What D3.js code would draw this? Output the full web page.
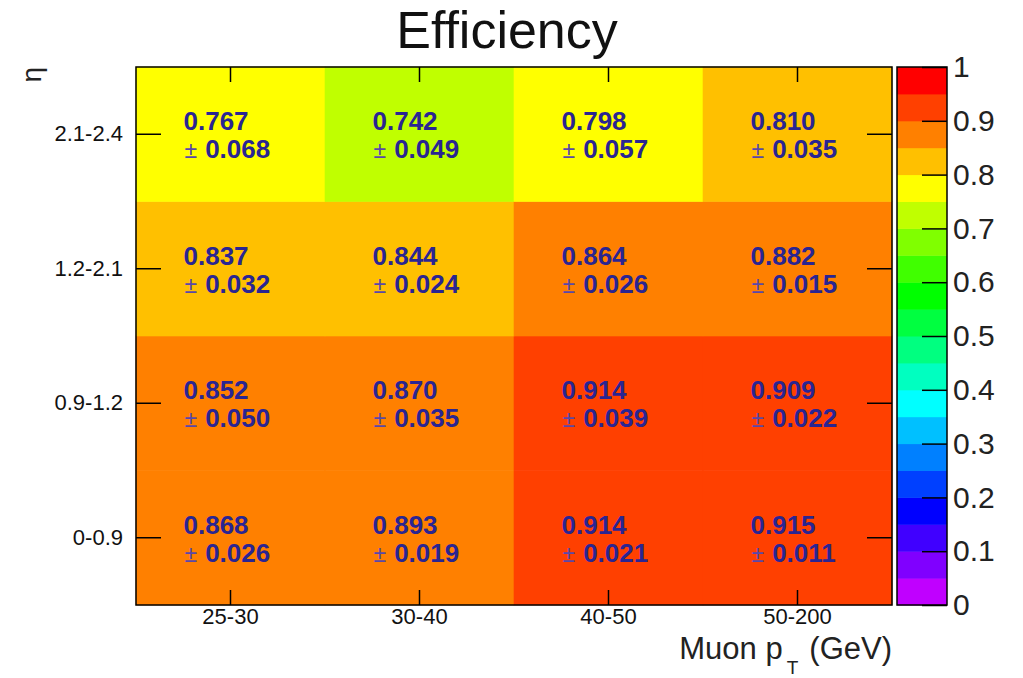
<!DOCTYPE html>
<html>
<head>
<meta charset="utf-8">
<script src="https://cdn.jsdelivr.net/npm/d3@7"></script>
<style>
  body { margin: 0; background: #fff; }
  svg text { font-family: "Liberation Sans", Arial, Helvetica, sans-serif; }
</style>
</head>
<body>
<svg id="chart" width="1023" height="678"></svg>
<script>
// bins
const ptBins = ["25-30", "30-40", "40-50", "50-200"];
const etaBins = ["0-0.9", "0.9-1.2", "1.2-2.1", "2.1-2.4"];

// efficiency per eta row (same order as etaBins), columns follow ptBins
const effRows = [
  [0.868, 0.893, 0.914, 0.915],
  [0.852, 0.870, 0.914, 0.909],
  [0.837, 0.844, 0.864, 0.882],
  [0.767, 0.742, 0.798, 0.810]
];
const errRows = [
  [0.026, 0.019, 0.021, 0.011],
  [0.050, 0.035, 0.039, 0.022],
  [0.032, 0.024, 0.026, 0.015],
  [0.068, 0.049, 0.057, 0.035]
];

// ROOT-style rainbow palette, 20 bins from 0 to 1
const palette = [
  "#c000ff", "#8000ff", "#4000ff", "#0000ff", "#0040ff",
  "#0080ff", "#00c0ff", "#00ffff", "#00ffc0", "#00ff80",
  "#00ff40", "#00ff00", "#40ff00", "#80ff00", "#c0ff00",
  "#ffff00", "#ffc000", "#ff8000", "#ff4000", "#ff0000"
];
const zTicks = [0, 0.1, 0.2, 0.3, 0.4, 0.5, 0.6, 0.7, 0.8, 0.9, 1];

const svg = d3.select("#chart");
const pLeft = 136, pRight = 892, pTop = 67, pBottom = 605;

const x = d3.scaleBand().domain(ptBins).range([pLeft, pRight]);
const y = d3.scaleBand().domain(etaBins).range([pBottom, pTop]);
const color = d3.scaleQuantize().domain([0, 1]).range(palette);

// flatten cells
const cells = [];
etaBins.forEach((eta, i) => {
  ptBins.forEach((pt, j) => {
    cells.push({ eta: eta, pt: pt, eff: effRows[i][j], err: errRows[i][j] });
  });
});

// heat cells (stroke in same colour hides the seams between bands)
svg.append("g")
  .selectAll("rect")
  .data(cells)
  .enter()
  .append("rect")
  .attr("x", d => x(d.pt))
  .attr("y", d => y(d.eta))
  .attr("width", x.bandwidth())
  .attr("height", y.bandwidth())
  .attr("fill", d => color(d.eff))
  .attr("stroke", d => color(d.eff))
  .attr("stroke-width", 0.6);

// cell text
const txt = svg.append("g")
  .selectAll("g")
  .data(cells)
  .enter()
  .append("g")
  .attr("transform", d => "translate(" + (x(d.pt) + x.bandwidth() / 2 - 47) + "," + (y(d.eta) + y.bandwidth() / 2) + ")");

txt.append("text")
  .attr("y", -4)
  .style("font-size", "26px")
  .style("font-weight", "bold")
  .attr("fill", "#2a2592")
  .text(d => d.eff.toFixed(3));

const errText = txt.append("text")
  .attr("x", 1)
  .attr("y", 24)
  .attr("fill", "#2a2592");
errText.append("tspan")
  .style("font-size", "23px")
  .attr("fill", "#5a48a8")
  .text("\u00b1");
errText.append("tspan")
  .style("font-size", "26px")
  .style("font-weight", "bold")
  .attr("dx", 8)
  .text(d => d.err.toFixed(3));

// axes
const axisStyle = g => {
  g.select(".domain").remove();
  g.selectAll("line").attr("stroke", "#000").attr("stroke-width", 1.5);
  g.selectAll("text").style("font-size", "22px").attr("fill", "#111");
};

svg.append("g")
  .attr("transform", "translate(0," + pBottom + ")")
  .call(d3.axisBottom(x).tickSize(-15).tickPadding(3).tickSizeOuter(0))
  .call(axisStyle);

svg.append("g")
  .attr("transform", "translate(0," + pTop + ")")
  .call(d3.axisTop(x).tickSize(-15).tickFormat("").tickSizeOuter(0))
  .call(axisStyle);

svg.append("g")
  .attr("transform", "translate(" + pLeft + ",0)")
  .call(d3.axisLeft(y).tickSize(-25).tickPadding(13).tickSizeOuter(0))
  .call(axisStyle);

svg.append("g")
  .attr("transform", "translate(" + pRight + ",0)")
  .call(d3.axisRight(y).tickSize(-25).tickFormat("").tickSizeOuter(0))
  .call(axisStyle);

// frame
svg.append("rect")
  .attr("x", pLeft).attr("y", pTop)
  .attr("width", pRight - pLeft).attr("height", pBottom - pTop)
  .attr("fill", "none").attr("stroke", "#000").attr("stroke-width", 1.5);

// colour bar
const zLeft = 897, zRight = 947;
const z = d3.scaleLinear().domain([0, 1]).range([pBottom, pTop]);
const zBins = palette.map((c, i) => ({ lo: i / palette.length, hi: (i + 1) / palette.length, c: c }));

svg.append("g")
  .selectAll("rect")
  .data(zBins)
  .enter()
  .append("rect")
  .attr("x", zLeft)
  .attr("y", d => z(d.hi))
  .attr("width", zRight - zLeft)
  .attr("height", d => z(d.lo) - z(d.hi) + 0.5)
  .attr("fill", d => d.c);

svg.append("g")
  .attr("transform", "translate(" + zRight + ",0)")
  .call(d3.axisRight(z).tickValues(zTicks).tickSize(-25).tickPadding(6).tickSizeOuter(0)
    .tickFormat(d => String(+d.toFixed(1))))
  .call(axisStyle)
  .call(g => g.selectAll("text").style("font-size", "30px").attr("fill", "#222"));

svg.append("rect")
  .attr("x", zLeft).attr("y", pTop)
  .attr("width", zRight - zLeft).attr("height", pBottom - pTop)
  .attr("fill", "none").attr("stroke", "#000").attr("stroke-width", 1.5);

// title
svg.append("text")
  .attr("x", 507)
  .attr("y", 48)
  .attr("text-anchor", "middle")
  .style("font-size", "52px")
  .attr("fill", "#111")
  .text("Efficiency");

// axis titles
const xTitle = svg.append("text")
  .attr("x", pRight)
  .attr("y", 659)
  .attr("text-anchor", "end")
  .style("font-size", "31px")
  .attr("fill", "#222");
xTitle.append("tspan").text("Muon p");
xTitle.append("tspan").attr("dx", 4).attr("dy", 15).style("font-size", "19px").text("T");
xTitle.append("tspan").attr("dx", 11).attr("dy", -15).text("(GeV)");

svg.append("text")
  .attr("transform", "translate(41," + pTop + ") rotate(-90)")
  .attr("text-anchor", "end")
  .style("font-size", "28px")
  .attr("fill", "#222")
  .text("\u03b7");
</script>
</body>
</html>
